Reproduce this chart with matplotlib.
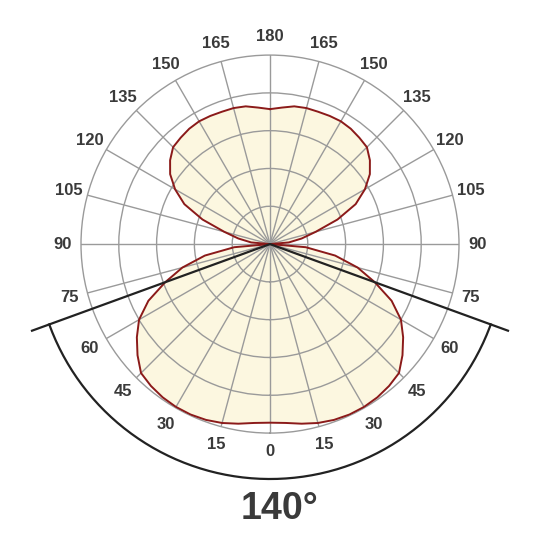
import numpy as np
import matplotlib
matplotlib.use("Agg")
import matplotlib.pyplot as plt

plt.rcParams['font.family'] = ['Liberation Sans', 'DejaVu Sans']

# light distribution, angle measured from straight down (0) to straight up (180)
angles_deg = [0, 5, 10, 15, 20, 25, 30, 35, 40, 45, 50, 55, 60, 65, 70, 75, 80, 85, 90,
              95, 100, 105, 110, 115, 120, 125, 130, 135, 140, 145, 150, 155, 160, 165,
              170, 175, 180]
intensity = [0.945, 0.95, 0.965, 0.98, 0.99, 0.995, 0.995, 0.99, 0.98, 0.965, 0.915,
             0.86, 0.80, 0.71, 0.59, 0.48, 0.35, 0.19, 0.0,
             0.10, 0.17, 0.25, 0.38, 0.50, 0.58, 0.645, 0.69, 0.725, 0.735, 0.745,
             0.75, 0.748, 0.745, 0.745, 0.74, 0.725, 0.714]

beam_angle = 140
ring_levels = [0.2, 0.4, 0.6, 0.8]
spoke_deg = list(range(0, 360, 15))

# mirror the half profile onto both sides
half_t = np.radians(angles_deg)
theta = np.concatenate([-half_t[::-1], half_t[1:]])
r = np.concatenate([np.array(intensity)[::-1], np.array(intensity)[1:]])

fig = plt.figure(figsize=(5.4, 5.4), dpi=100)
ax = fig.add_axes([0.15, 0.198, 0.7, 0.7], projection='polar')
ax.set_theta_zero_location('S')
ax.set_ylim(0, 1)

ax.set_xticks(np.radians(spoke_deg))
ax.set_xticklabels([])
ax.set_yticks(ring_levels)
ax.set_yticklabels([])
ax.grid(True, color='#9a9a9a', linewidth=1.0)
ax.spines['polar'].set_color('#9a9a9a')
ax.spines['polar'].set_linewidth(1.0)

ax.fill(theta, r, color='#fcf7e0', zorder=1)
ax.plot(theta, r, color='#8b1a1a', linewidth=1.4, zorder=3)

# angle labels around the circle
for a in spoke_deg:
    lbl = a if a <= 180 else 360 - a
    ax.text(np.radians(a), 1.10, str(lbl), ha='center', va='center',
            fontsize=12, fontweight='bold', color='#3a3a3a')

# beam angle bracket
half_beam = np.radians(beam_angle / 2)
ax.plot([half_beam, 0, -half_beam], [1.34, 0, 1.34], color='#222222',
        linewidth=1.6, clip_on=False, zorder=4)
arc_t = np.linspace(-half_beam, half_beam, 200)
ax.plot(arc_t, np.full_like(arc_t, 1.243), color='#222222', linewidth=1.6,
        clip_on=False, zorder=4)

fig.text(0.518, 1 - 509 / 540, f"{beam_angle}°", ha='center', va='center',
         fontsize=27, fontweight='bold', color='#3a3a3a')

fig.savefig('out.png', dpi=100, facecolor='white')
